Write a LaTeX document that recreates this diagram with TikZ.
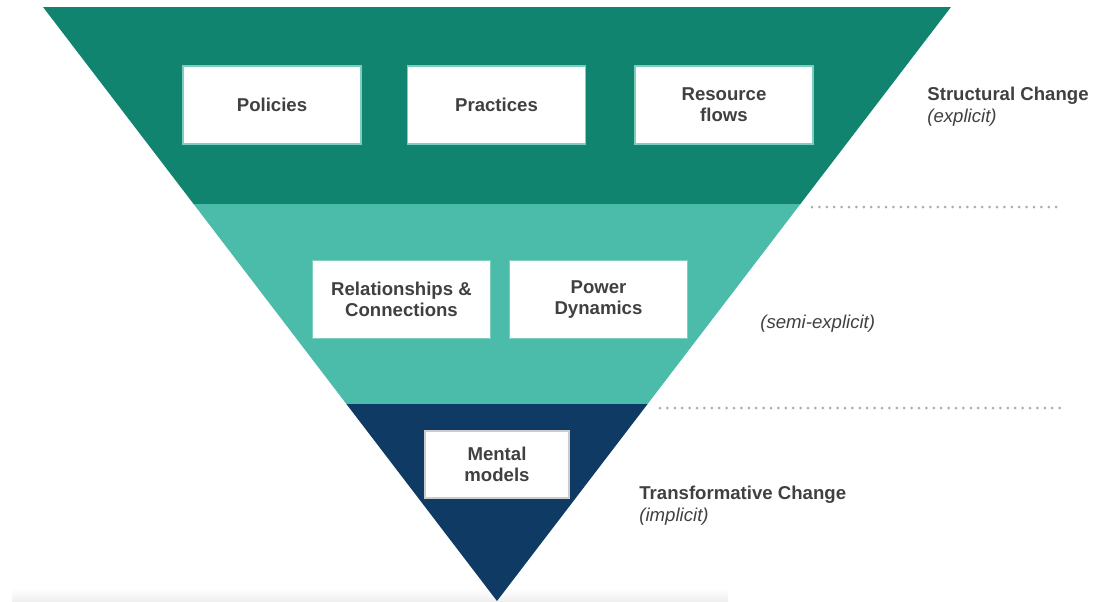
\documentclass[tikz,border=0pt]{standalone}
\usepackage{fontspec}
\setmainfont{Liberation Sans}
\usepackage{xcolor}
\definecolor{structband}{HTML}{10846F}
\definecolor{semiband}{HTML}{4BBBAA}
\definecolor{mentalband}{HTML}{0E3A63}
\definecolor{boxline}{HTML}{7CCFBF}
\definecolor{labelgray}{HTML}{404040}

\begin{document}
\begin{tikzpicture}[x=0.5pt,y=-0.5pt,
    levelbox/.style={draw=boxline, line width=0.9pt, fill=white, minimum width=89pt, minimum height=39pt,
        inner sep=0pt, align=center, text=labelgray, font=\bfseries\fontsize{9.3}{10.6}\selectfont},
    sidelabel/.style={anchor=west, align=left, inner sep=0pt, text=labelgray, font=\fontsize{9.3}{10.8}\selectfont},
    levelsep/.style={draw=black!32, line width=1.5pt, line cap=round, dash pattern=on 0pt off 3.7pt}]
    \useasboundingbox (0,0) rectangle (1094,601);

    \shade[top color=white, bottom color=black!6] (12,588) rectangle (728,601);

    \coordinate (TL) at (43,7);
    \coordinate (TR) at (951,7);
    \coordinate (ML) at (193.6,204);
    \coordinate (MR) at (800.4,204);
    \coordinate (BL) at (346.4,404);
    \coordinate (BR) at (647.6,404);
    \coordinate (Apex) at (497,601);

    \fill[structband] (TL) -- (TR) -- (MR) -- (ML) -- cycle;
    \fill[semiband] (ML) -- (MR) -- (BR) -- (BL) -- cycle;
    \fill[mentalband] (BL) -- (BR) -- (Apex) -- cycle;

    \node[levelbox] (Policies) at (272,105) {Policies};
    \node[levelbox] (Practices) at (496.5,105) {Practices};
    \node[levelbox] (Resources) at (724,105) {Resource\\flows};

    \node[levelbox] (Relations) at (401.5,299.5) {Relationships \&\\Connections};
    \node[levelbox] (Power) at (598.5,299.5) {Power\\Dynamics};

    \node[levelbox, draw=black!20, minimum width=72pt, minimum height=33.5pt] (Mental) at (497,464.5) {Mental\\models};

    \node[sidelabel] (Structural) at (927,106.5) {\textbf{Structural Change}\\\textit{(explicit)}};
    \node[sidelabel] (Semi) at (760,323.5) {\textit{(semi-explicit)}};
    \node[sidelabel] (Transform) at (639,505.5) {\textbf{Transformative Change}\\\textit{(implicit)}};

    \coordinate (SepA1) at (812,207);
    \coordinate (SepA2) at (1063,207);
    \coordinate (SepB1) at (660,408);
    \coordinate (SepB2) at (1062,408);
    \draw[levelsep] (SepA1) -- (SepA2);
    \draw[levelsep] (SepB1) -- (SepB2);
\end{tikzpicture}
\end{document}
